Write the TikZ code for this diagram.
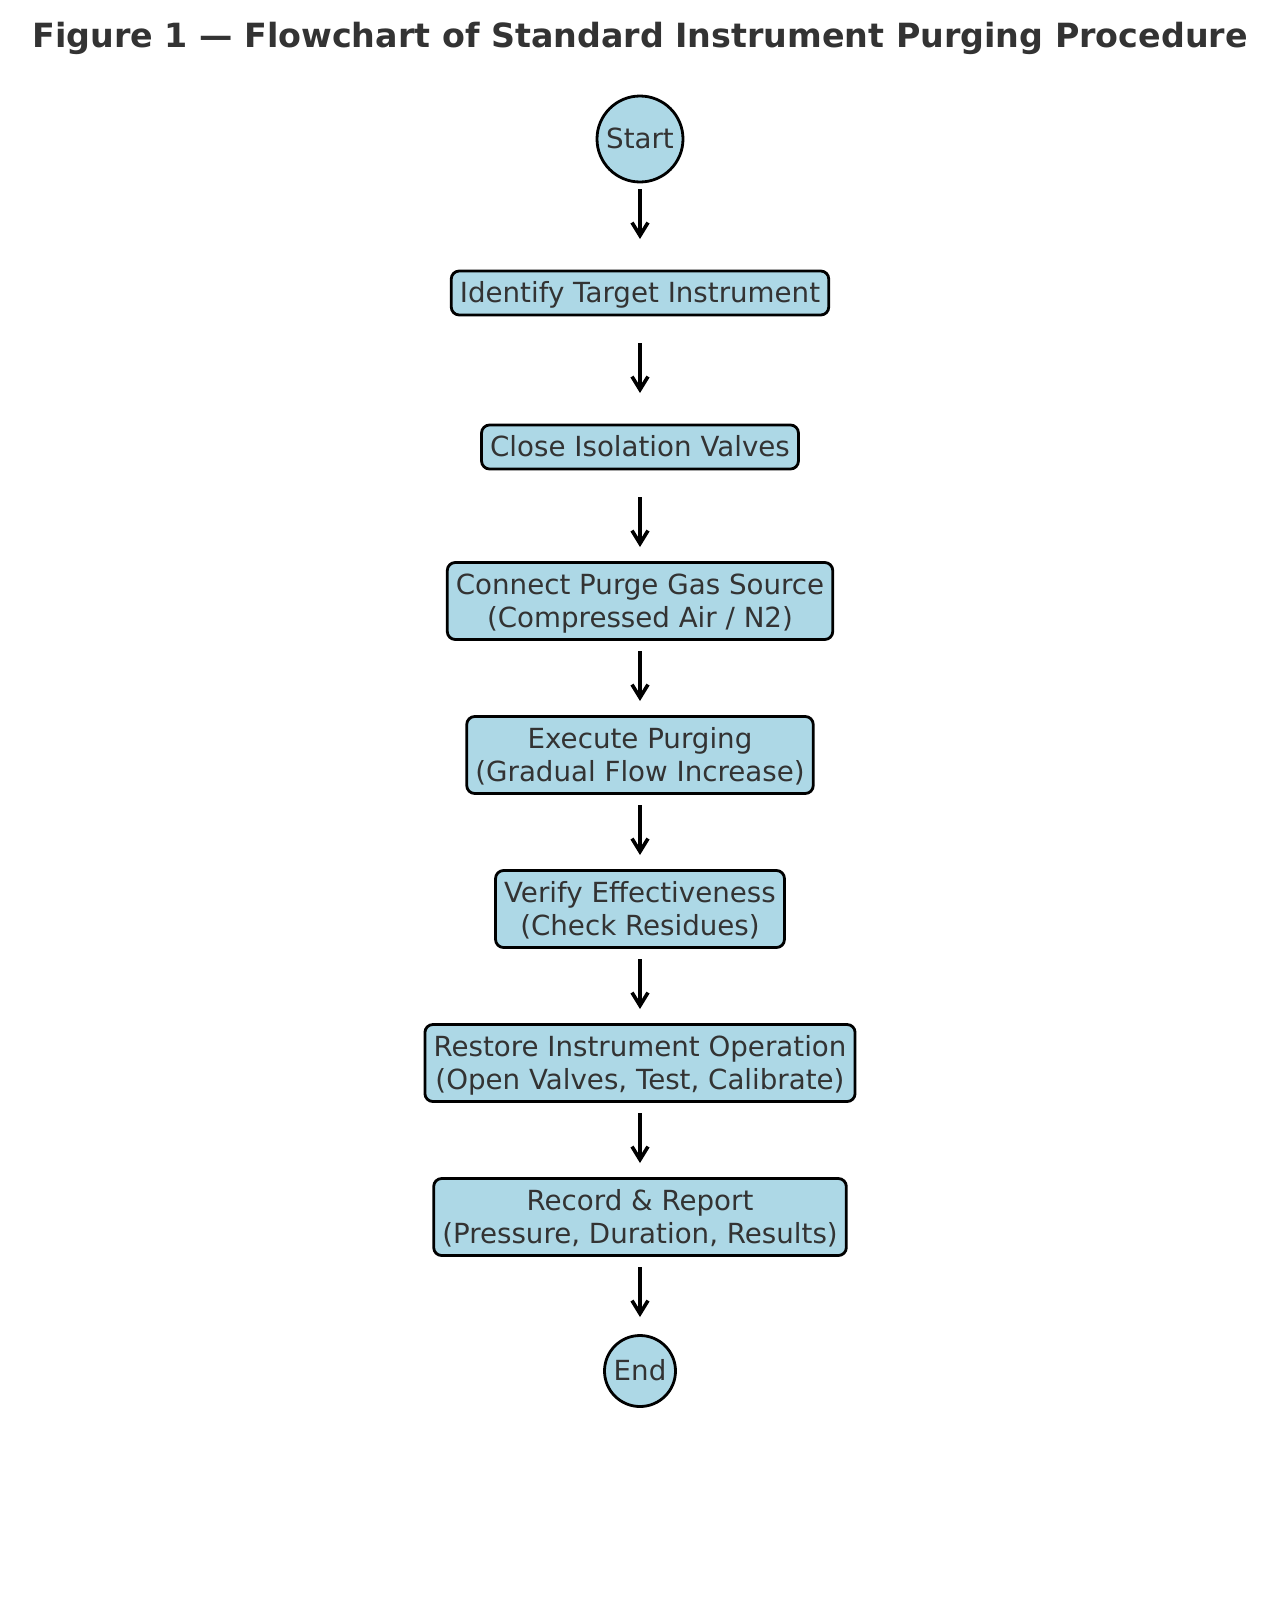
\documentclass[tikz,border=0pt]{standalone}
\usepackage{fontspec}
\setmainfont{DejaVu Sans}
\usetikzlibrary{arrows.meta}
\definecolor{boxfill}{HTML}{ADD8E6}
\definecolor{txt}{HTML}{333333}
\newcommand\hs{\rule{0pt}{13pt}}
\newcommand\ds{\rule[-3.5pt]{0pt}{0pt}}
\tikzset{
  px/.style={x=0.5pt,y=-0.5pt},
  stepbox/.style={draw=black, line width=1.4pt, fill=boxfill, rounded corners=4pt,
    text=txt, align=center, inner xsep=4.3pt, inner ysep=0pt,
    font=\fontsize{13.85}{16.5}\selectfont},
  one/.style={minimum height=22pt},
  two/.style={minimum height=38.5pt},
  term/.style={draw=black, line width=1.4pt, fill=boxfill, circle, inner sep=0pt,
    text=txt, font=\fontsize{13.85}{16.5}\selectfont},
  flow/.style={draw=black, line width=1.8pt, -{Straight Barb[length=6.5pt,width=8pt,line width=1.8pt]},
    shorten <=25pt, shorten >=27pt},
}
\begin{document}
\begin{tikzpicture}[px]
\useasboundingbox (0,0) rectangle (1280,1622);
\node[anchor=base, text=txt, font=\fontsize{16.66}{20}\selectfont\bfseries] (title) at (640,47)
  {Figure 1 — Flowchart of Standard Instrument Purging Procedure};
\node[term, minimum size=43pt] (start) at (640,139) {\hs Start\ds};
\node[stepbox, one] (identify) at (640,293) {\hs Identify Target Instrument\ds};
\node[stepbox, one] (close) at (640,447) {\hs Close Isolation Valves\ds};
\node[stepbox, two] (connect) at (640,601) {\hs Connect Purge Gas Source\\(Compressed Air / N2)\ds};
\node[stepbox, two] (execute) at (640,755) {\hs Execute Purging\\(Gradual Flow Increase)\ds};
\node[stepbox, two] (verify) at (640,909) {\hs Verify Effectiveness\\(Check Residues)\ds};
\node[stepbox, two] (restore) at (640,1063) {\hs Restore Instrument Operation\\(Open Valves, Test, Calibrate)\ds};
\node[stepbox, two] (record) at (640,1217) {\hs Record \& Report\\(Pressure, Duration, Results)\ds};
\node[term, minimum size=35.5pt] (end) at (640,1371) {\hs End\ds};
\draw[flow] (start.center) -- (identify.center);
\draw[flow] (identify.center) -- (close.center);
\draw[flow] (close.center) -- (connect.center);
\draw[flow] (connect.center) -- (execute.center);
\draw[flow] (execute.center) -- (verify.center);
\draw[flow] (verify.center) -- (restore.center);
\draw[flow] (restore.center) -- (record.center);
\draw[flow] (record.center) -- (end.center);
\end{tikzpicture}
\end{document}
